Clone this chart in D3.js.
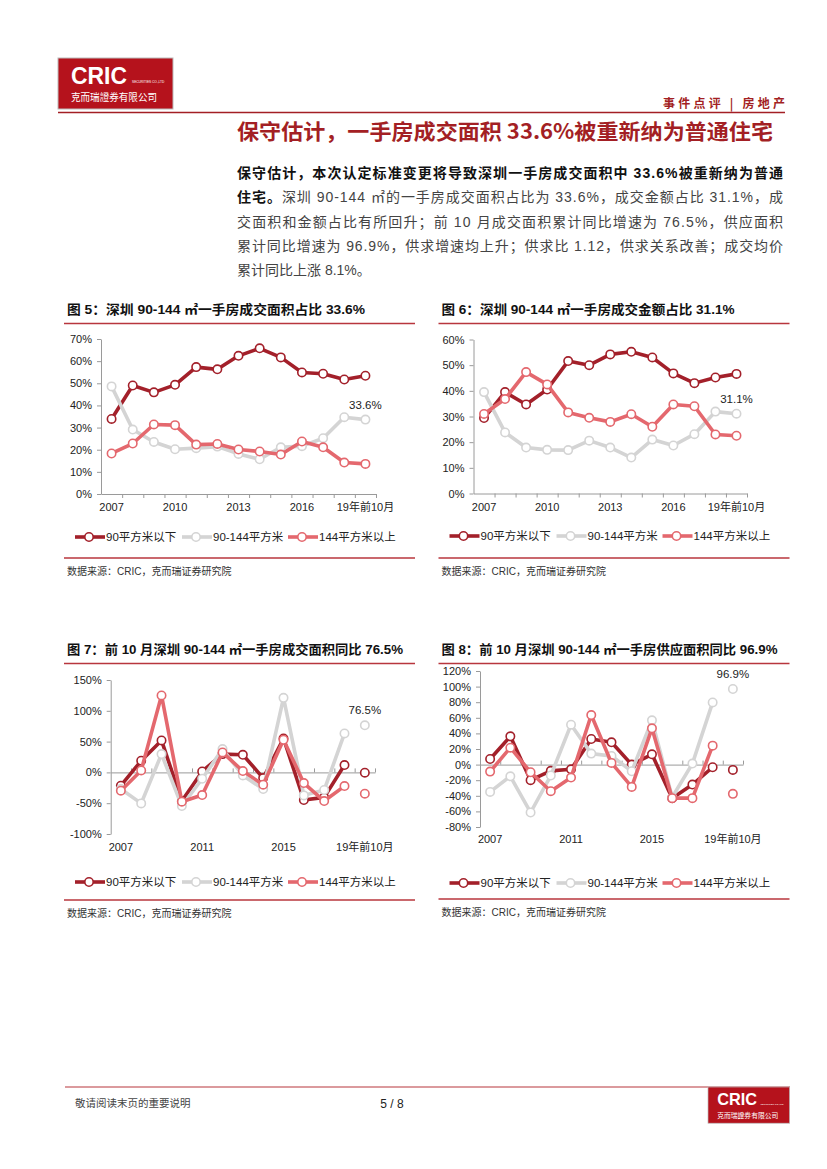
<!DOCTYPE html>
<html><head><meta charset="utf-8">
<script src="https://cdn.jsdelivr.net/npm/d3@7"></script>
<style>body{margin:0;background:#fff}svg{display:block}</style>
</head><body>
<svg id="page" width="827" height="1169"></svg>
<script>
// ---------------- data ----------------
const categories = ["2007","2008","2009","2010","2011","2012","2013","2014","2015","2016","2017","2018","19年前10月"];
const seriesNames = ["90平方米以下","90-144平方米","144平方米以上"];

const fig5Below90 = [33.9,49.0,45.9,49.3,57.3,56.3,62.4,65.8,61.7,54.9,54.3,51.7,53.4];
const fig5Mid     = [48.6,29.1,23.5,20.2,20.7,21.4,18.1,15.7,21.1,21.6,25.2,34.7,33.6];
const fig5Above   = [18.3,22.8,31.4,31.1,22.3,22.6,20.1,19.2,17.8,23.7,21.1,14.2,13.6];

const fig6Below90 = [29.4,39.5,34.7,40.5,51.6,50.0,54.2,55.2,53.0,46.8,43.0,45.2,46.6];
const fig6Mid     = [39.5,23.8,17.9,17.0,16.9,20.6,17.9,14.0,21.0,18.7,23.1,31.9,31.1];
const fig6Above   = [31.0,36.8,47.3,42.5,31.6,29.5,27.9,30.9,26.0,34.7,34.0,23.0,22.5];

const fig7Below90 = [-21.6,18.9,51.9,-46.5,1.6,29.7,28.6,-9.2,55.1,-44.9,-40.5,11.9,-0.5];
const fig7Mid     = [-27.0,-50.3,29.7,-54.6,-10.3,37.8,-4.9,-27.0,121.0,-37.3,-28.6,63.2,76.5];
const fig7Above   = [-29.7,3.2,124.9,-47.6,-36.8,32.4,2.2,-20.0,53.0,-17.3,-46.5,-22.2,-34.6];

const fig8Below90 = [7.2,36.2,-20.0,-8.0,-6.0,32.8,28.6,0.0,13.2,-43.0,-25.6,-3.4,-6.8];
const fig8Mid     = [-35.0,-15.0,-61.4,-14.0,51.2,14.1,11.1,-8.5,56.7,-41.8,1.3,79.7,96.9];
const fig8Above   = [-9.0,21.7,-9.8,-34.1,-16.6,63.5,2.1,-28.6,46.5,-43.0,-43.0,24.3,-37.5];

const fig5Ticks = [0,10,20,30,40,50,60,70];
const fig6Ticks = [0,10,20,30,40,50,60];
const fig7Ticks = [-100,-50,0,50,100,150];
const fig8Ticks = [-80,-60,-40,-20,0,20,40,60,80,100,120];
const xLabels56 = ["2007","2010","2013","2016","19年前10月"];
const xLabels78 = ["2007","2011","2015","19年前10月"];

// ---------------- styles ----------------
const FONT = "'Liberation Sans', Arial, 'Noto Sans CJK SC', sans-serif";
const CJK = "'Noto Sans CJK SC', 'Liberation Sans', sans-serif";
const RED = "#A31F24";
const colors = ["#A3202A", "#D4D4D4", "#E4686E"];

const svg = d3.select("#page");
svg.append("rect").attr("width",827).attr("height",1169).attr("fill","#fff");

// ---------------- header ----------------
function logo(g, x, y, s) {
  const L = g.append("g").attr("transform", `translate(${x},${y}) scale(${s})`);
  L.append("rect").attr("width",115).attr("height",51).attr("fill","#B5121C").attr("stroke","#bbb").attr("stroke-width",1);
  L.append("text").attr("x",13).attr("y",26).attr("font-family",FONT).attr("font-weight","bold")
    .attr("font-size",23).attr("fill","#fff").attr("textLength",56).attr("lengthAdjust","spacingAndGlyphs").text("CRIC");
  L.append("text").attr("x",74).attr("y",25).attr("font-family",FONT).attr("font-size",3.2)
    .attr("fill","#fff").text("SECURITIES CO.,LTD");
  L.append("text").attr("x",13).attr("y",43).attr("font-family",CJK)
    .attr("font-size",10).attr("fill","#fff").attr("textLength",86).attr("lengthAdjust","spacingAndGlyphs")
    .text("克而瑞證券有限公司");
}
logo(svg, 58, 58, 1);

svg.append("text").attr("x",663).attr("y",108).attr("font-family",CJK)
  .attr("font-weight","bold").attr("font-size",12).attr("fill",RED)
  .attr("textLength",122).attr("lengthAdjust","spacing").text("事件点评 | 房地产");
svg.append("line").attr("x1",58).attr("x2",785).attr("y1",112.5).attr("y2",112.5)
  .attr("stroke",RED).attr("stroke-width",1.5);

svg.append("text").attr("x",237).attr("y",139).attr("font-family",CJK).attr("font-weight","bold")
  .attr("font-size",21).attr("fill",RED).attr("textLength",536).attr("lengthAdjust","spacingAndGlyphs")
  .text("保守估计，一手房成交面积 33.6%被重新纳为普通住宅");

// ---------------- paragraph ----------------
const paraLines = [
  [{t:"保守估计，本次认定标准变更将导致深圳一手房成交面积中 33.6%被重新纳为普通", b:true}],
  [{t:"住宅。", b:true},{t:"深圳 90-144 ㎡的一手房成交面积占比为 33.6%，成交金额占比 31.1%，成", b:false}],
  [{t:"交面积和金额占比有所回升；前 10 月成交面积累计同比增速为 76.5%，供应面积", b:false}],
  [{t:"累计同比增速为 96.9%，供求增速均上升；供求比 1.12，供求关系改善；成交均价", b:false}],
  [{t:"累计同比上涨 8.1%。", b:false}]
];
paraLines.forEach((parts, i) => {
  const t = svg.append("text").attr("x",237).attr("y",178 + i*24.3)
    .attr("font-family",FONT).attr("font-size",14).attr("fill","#333");
  if (i < 4) t.attr("textLength",546).attr("lengthAdjust","spacing");
  parts.forEach(p => t.append("tspan").attr("font-weight", p.b ? "bold" : "normal")
    .attr("fill", p.b ? "#111" : "#444").text(p.t));
});

// ---------------- charts ----------------
function drawChart(cfg) {
  const g = svg.append("g");
  // title
  g.append("text").attr("x",cfg.left).attr("y",cfg.titleY).attr("font-family",FONT).attr("font-weight","bold")
    .attr("font-size",13).attr("fill","#111").attr("textLength",cfg.titleLen).attr("lengthAdjust","spacingAndGlyphs")
    .text(cfg.title);
  g.append("line").attr("x1",cfg.left-3).attr("x2",cfg.left+348).attr("y1",cfg.titleY+9.5).attr("y2",cfg.titleY+9.5)
    .attr("stroke","#B8363D").attr("stroke-width",1.3);

  const x = d3.scaleBand().domain(categories).range([cfg.x0, cfg.x1]);
  const y = d3.scaleLinear().domain(cfg.yDomain).range([cfg.yBottom, cfg.yTop]);
  const cx = c => x(c) + x.bandwidth()/2;

  // y axis
  const ya = g.append("g").attr("transform",`translate(${cfg.x0},0)`)
    .call(d3.axisLeft(y).tickValues(cfg.yTicks).tickSize(4).tickSizeOuter(0).tickPadding(5).tickFormat(d => d + "%"));
  ya.select(".domain").attr("stroke","#9a9a9a");
  ya.selectAll(".tick line").attr("stroke","#9a9a9a");
  ya.selectAll("text").attr("font-family",FONT).attr("font-size",11).attr("fill","#222");

  // x axis line with ticks at category boundaries
  const idx = d3.scaleLinear().domain([0, categories.length]).range([cfg.x0, cfg.x1]);
  const baseY = y(cfg.baseAt);
  const axisGen = cfg.ticksUp ? d3.axisTop(idx) : d3.axisBottom(idx);
  const xa = g.append("g").attr("transform",`translate(0,${baseY})`)
    .call(axisGen.tickValues(d3.range(1, categories.length + 1)).tickSize(4).tickSizeOuter(0).tickFormat(""));
  xa.select(".domain").attr("stroke","#9a9a9a");
  xa.selectAll(".tick line").attr("stroke","#9a9a9a");

  // x labels
  const xl = g.append("g").attr("transform",`translate(0,${cfg.labelY})`)
    .call(d3.axisBottom(x).tickValues(cfg.xLabels).tickSize(0).tickPadding(0));
  xl.select(".domain").remove();
  xl.selectAll("text").attr("font-family",FONT).attr("font-size",11).attr("fill","#222");

  // series
  cfg.series.forEach((vals, si) => {
    const pts = vals.map((v, i) => ({c: categories[i], v, i}));
    const line = d3.line().x(d => cx(d.c)).y(d => y(d.v))
      .defined(d => cfg.connectLast || d.i < categories.length - 1);
    g.append("path").datum(pts).attr("d", line).attr("fill","none")
      .attr("stroke", colors[si]).attr("stroke-width",3.6).attr("stroke-linejoin","round");
    g.selectAll(null).data(pts).enter().append("circle")
      .attr("cx", d => cx(d.c)).attr("cy", d => y(d.v)).attr("r",4.2)
      .attr("fill","#fff").attr("stroke", colors[si]).attr("stroke-width",1.6);
  });

  // annotation for latest 90-144 value
  const last = categories[categories.length - 1];
  const mid = cfg.series[1];
  g.append("text").attr("x", cx(last)).attr("y", y(mid[mid.length-1]) - 11).attr("text-anchor","middle")
    .attr("font-family",FONT).attr("font-size",11.5).attr("fill","#222")
    .text(mid[mid.length-1].toFixed(1) + "%");

  // legend
  const offs = [8, 115, 221];
  seriesNames.forEach((n, si) => {
    const lx = cfg.left + offs[si];
    g.append("line").attr("x1",lx).attr("x2",lx+30).attr("y1",cfg.legendY).attr("y2",cfg.legendY)
      .attr("stroke",colors[si]).attr("stroke-width",3.6);
    g.append("circle").attr("cx",lx+14).attr("cy",cfg.legendY).attr("r",4.2).attr("fill","#fff")
      .attr("stroke",colors[si]).attr("stroke-width",1.6);
    g.append("text").attr("x",lx+31).attr("y",cfg.legendY+4).attr("font-family",FONT).attr("font-size",11.5)
      .attr("fill","#222").text(n);
  });

  // bottom rule + source
  g.append("line").attr("x1",cfg.left-3).attr("x2",cfg.left+348).attr("y1",cfg.bottomY).attr("y2",cfg.bottomY)
    .attr("stroke","#B8363D").attr("stroke-width",1.3);
  g.append("text").attr("x",cfg.left).attr("y",cfg.bottomY+17).attr("font-family",FONT).attr("font-size",10)
    .attr("fill","#333").text("数据来源：CRIC，克而瑞证券研究院");
}

drawChart({left:67, titleY:314, titleLen:298, title:"图 5：深圳 90-144 ㎡一手房成交面积占比 33.6%",
  x0:101, x1:376, yDomain:[0,70], yBottom:494, yTop:339, yTicks:fig5Ticks, baseAt:0, ticksUp:false,
  labelY:503, xLabels:xLabels56, series:[fig5Below90, fig5Mid, fig5Above], connectLast:true,
  legendY:537, bottomY:558});

drawChart({left:441.5, titleY:314, titleLen:293, title:"图 6：深圳 90-144 ㎡一手房成交金额占比 31.1%",
  x0:473.5, x1:747, yDomain:[0,60], yBottom:493.5, yTop:339.5, yTicks:fig6Ticks, baseAt:0, ticksUp:false,
  labelY:503, xLabels:xLabels56, series:[fig6Below90, fig6Mid, fig6Above], connectLast:true,
  legendY:536, bottomY:558});

drawChart({left:67, titleY:654, titleLen:336, title:"图 7：前 10 月深圳 90-144 ㎡一手房成交面积同比 76.5%",
  x0:110.7, x1:375, yDomain:[-100,150], yBottom:834, yTop:680, yTicks:fig7Ticks, baseAt:0, ticksUp:true,
  labelY:843, xLabels:xLabels78, series:[fig7Below90, fig7Mid, fig7Above], connectLast:false,
  legendY:882, bottomY:900});

drawChart({left:441.5, titleY:654, titleLen:336, title:"图 8：前 10 月深圳 90-144 ㎡一手房供应面积同比 96.9%",
  x0:480, x1:743, yDomain:[-80,120], yBottom:827, yTop:671, yTicks:fig8Ticks, baseAt:0, ticksUp:true,
  labelY:835, xLabels:xLabels78, series:[fig8Below90, fig8Mid, fig8Above], connectLast:false,
  legendY:883, bottomY:899});

// ---------------- footer ----------------
svg.append("line").attr("x1",65).attr("x2",790).attr("y1",1087).attr("y2",1087)
  .attr("stroke","#B8363D").attr("stroke-width",1.2);
svg.append("text").attr("x",75).attr("y",1107).attr("font-family",FONT).attr("font-size",10.5)
  .attr("fill","#444").text("敬请阅读末页的重要说明");
svg.append("text").attr("x",392).attr("y",1108).attr("text-anchor","middle").attr("font-family",FONT)
  .attr("font-size",12).attr("fill","#222").text("5 / 8");
logo(svg, 708, 1087, 0.71);
</script>
</body></html>
